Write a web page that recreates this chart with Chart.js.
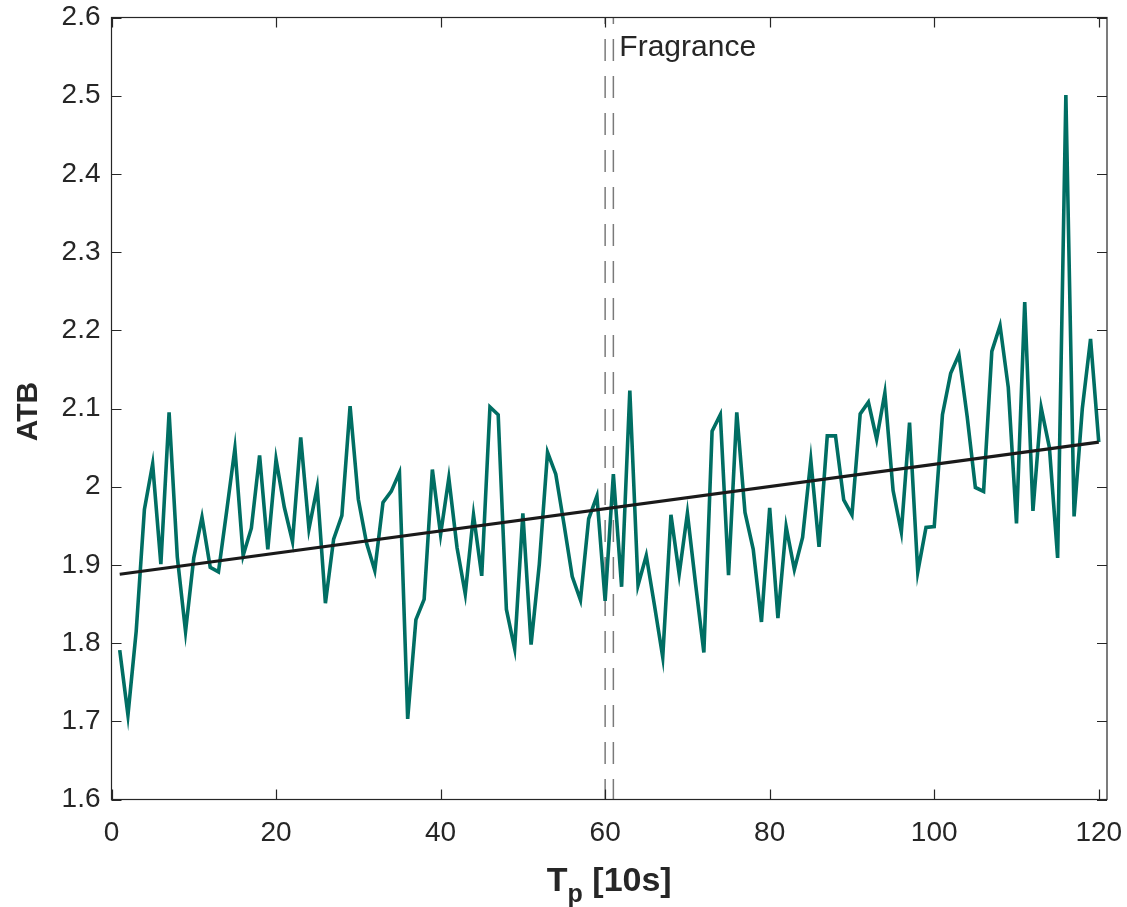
<!DOCTYPE html>
<html>
<head>
<meta charset="utf-8">
<script src="https://cdn.jsdelivr.net/npm/chart.js@4.4.1/dist/chart.umd.min.js"></script>
<style>
  html, body { margin: 0; padding: 0; background: #fff; }
  #wrap { width: 1127px; height: 907px; }
</style>
</head>
<body>
<div id="wrap"><canvas id="atbChart" width="1127" height="907"></canvas></div>
<script>
// time steps T_p (units of 10 s)
const timeSteps = Array.from({ length: 120 }, (_, i) => i + 1);

// ATB per time step
const atbValues = [
  1.791, 1.708, 1.815, 1.971, 2.029, 1.901, 2.095, 1.910, 1.815, 1.909,
  1.961, 1.897, 1.891, 1.969, 2.049, 1.912, 1.947, 2.040, 1.920, 2.035,
  1.974, 1.930, 2.063, 1.946, 1.999, 1.851, 1.933, 1.963, 2.103, 1.984,
  1.928, 1.893, 1.980, 1.994, 2.018, 1.703, 1.830, 1.856, 2.022, 1.939,
  2.011, 1.922, 1.863, 1.964, 1.886, 2.102, 2.092, 1.843, 1.793, 1.966,
  1.798, 1.901, 2.044, 2.016, 1.952, 1.885, 1.855, 1.959, 1.988, 1.854,
  2.016, 1.872, 2.123, 1.874, 1.912, 1.848, 1.782, 1.964, 1.888, 1.966,
  1.875, 1.788, 2.071, 2.092, 1.887, 2.095, 1.967, 1.920, 1.827, 1.973,
  1.832, 1.949, 1.894, 1.935, 2.034, 1.923, 2.065, 2.065, 1.983, 1.964,
  2.093, 2.108, 2.061, 2.120, 1.995, 1.942, 2.082, 1.891, 1.948, 1.949,
  2.092, 2.145, 2.169, 2.090, 1.999, 1.994, 2.173, 2.206, 2.127, 1.953,
  2.236, 1.969, 2.101, 2.050, 1.909, 2.501, 1.962, 2.100, 2.189, 2.057
];

// linear trend, end points
const trendX = [1, 120];
const trendY = [1.888, 2.057];

// stimulus markers
const markerX = [60, 61];
const markerLabel = 'Fragrance';

const xTicks = [0, 20, 40, 60, 80, 100, 120];
const yTicks = [1.6, 1.7, 1.8, 1.9, 2.0, 2.1, 2.2, 2.3, 2.4, 2.5, 2.6];
const xRange = [0, 121];
const yRange = [1.6, 2.6];

const axisColor = '#262626';
const fontFamily = "'Liberation Sans', Arial, Helvetica, sans-serif";

const atbPoints = atbValues.map((v, i) => ({ x: timeSteps[i], y: v }));
const trendPoints = trendX.map((x, i) => ({ x: x, y: trendY[i] }));

const markerSets = markerX.map(x => ({
  data: [{ x: x, y: yRange[1] }, { x: x, y: yRange[0] }],
  borderColor: '#7a7a7a',
  borderWidth: 1.5,
  borderDash: [22, 15],
  borderDashOffset: 15.5,
  pointRadius: 0,
  order: 2
}));

// box, inward ticks, axis titles and marker label
const decorations = {
  id: 'decorations',
  afterDraw(chart) {
    const ctx = chart.ctx;
    const a = chart.chartArea;
    const xs = chart.scales.x;
    const ys = chart.scales.y;
    const tl = 10;
    ctx.save();
    ctx.strokeStyle = axisColor;
    ctx.lineWidth = 1.2;
    ctx.strokeRect(a.left, a.top, a.right - a.left, a.bottom - a.top);
    ctx.beginPath();
    xTicks.forEach(v => {
      const px = Math.round(xs.getPixelForValue(v)) + 0.5;
      ctx.moveTo(px, a.bottom); ctx.lineTo(px, a.bottom - tl);
      ctx.moveTo(px, a.top); ctx.lineTo(px, a.top + tl);
    });
    yTicks.forEach(v => {
      const py = Math.round(ys.getPixelForValue(v)) + 0.5;
      ctx.moveTo(a.left, py); ctx.lineTo(a.left + tl, py);
      ctx.moveTo(a.right, py); ctx.lineTo(a.right - tl, py);
    });
    ctx.stroke();

    // marker label
    ctx.fillStyle = axisColor;
    ctx.font = '30px ' + fontFamily;
    ctx.textAlign = 'left';
    ctx.textBaseline = 'alphabetic';
    ctx.fillText(markerLabel, xs.getPixelForValue(markerX[1]) + 6, a.top + 38);

    // x title: T_p [10s]
    const big = 'bold 34px ' + fontFamily;
    const small = 'bold 25px ' + fontFamily;
    ctx.font = big;
    const wT = ctx.measureText('T').width;
    const wRest = ctx.measureText(' [10s]').width;
    ctx.font = small;
    const wP = ctx.measureText('p').width;
    const total = wT + wP + wRest;
    const x0 = (a.left + a.right) / 2 - total / 2;
    const base = 891;
    ctx.font = big;
    ctx.fillText('T', x0, base);
    ctx.font = small;
    ctx.fillText('p', x0 + wT, base + 11);
    ctx.font = big;
    ctx.fillText(' [10s]', x0 + wT + wP, base);

    // y title
    ctx.translate(37, (a.top + a.bottom) / 2 + 3);
    ctx.rotate(-Math.PI / 2);
    ctx.textAlign = 'center';
    ctx.font = 'bold 30px ' + fontFamily;
    ctx.fillText('ATB', 0, 0);
    ctx.restore();
  }
};

const ctx = document.getElementById('atbChart').getContext('2d');
const chart = new Chart(ctx, {
  type: 'line',
  data: {
    datasets: [
      {
        label: 'Trend',
        data: trendPoints,
        borderColor: '#1a1a1a',
        borderWidth: 3.2,
        pointRadius: 0,
        order: 0
      },
      {
        label: 'ATB',
        data: atbPoints,
        borderColor: '#006e63',
        borderWidth: 3.6,
        pointRadius: 0,
        tension: 0,
        order: 1
      },
      ...markerSets
    ]
  },
  options: {
    responsive: false,
    animation: false,
    layout: { padding: { top: 17.5, right: 20, left: 0, bottom: 0 } },
    plugins: {
      legend: { display: false },
      tooltip: { enabled: false }
    },
    scales: {
      x: {
        type: 'linear',
        min: xRange[0],
        max: xRange[1],
        grid: { display: false, drawTicks: false },
        border: { display: false },
        afterBuildTicks: s => { s.ticks = xTicks.map(v => ({ value: v })); },
        afterFit: s => {
          s.height = 107.5;
          s.paddingLeft = 0; s.paddingRight = 0;
        },
        ticks: {
          color: axisColor,
          padding: 17,
          maxRotation: 0,
          autoSkip: false,
          font: { family: fontFamily, size: 28 }
        }
      },
      y: {
        type: 'linear',
        min: yRange[0],
        max: yRange[1],
        grid: { display: false, drawTicks: false },
        border: { display: false },
        afterBuildTicks: s => { s.ticks = yTicks.map(v => ({ value: v })); },
        afterFit: s => {
          s.width = 111.5;
          s.paddingTop = 0; s.paddingBottom = 0;
        },
        ticks: {
          color: axisColor,
          padding: 11,
          autoSkip: false,
          font: { family: fontFamily, size: 28 },
          callback: v => String(Number(v.toFixed(1)))
        }
      }
    }
  },
  plugins: [decorations]
});
</script>
</body>
</html>
